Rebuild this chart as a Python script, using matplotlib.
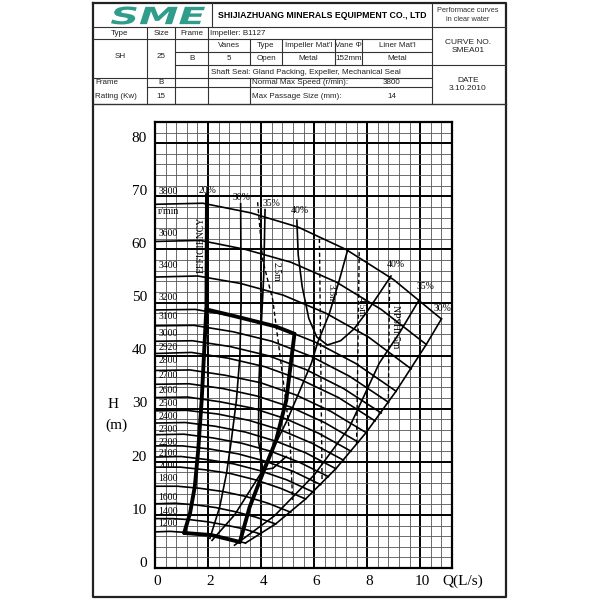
import matplotlib.pyplot as plt
from matplotlib.textpath import TextPath
from matplotlib.font_manager import FontProperties
from matplotlib.patches import PathPatch
from matplotlib.transforms import Affine2D

# ---------------------------------------------------------------
# Curvas H-Q por velocidad (r/min)
# ---------------------------------------------------------------
Q_3800 = [0, 1.80, 3.60, 5.40, 7.20, 9.00, 10.80]
H_3800 = [68.5, 68.7, 66.9, 64.2, 60.0, 54.3, 46.9]
Q_3600 = [0, 1.71, 3.41, 5.12, 6.82, 8.53, 10.23]
H_3600 = [61.5, 61.7, 60.0, 57.6, 53.9, 48.7, 42.1]
Q_3400 = [0, 1.61, 3.22, 4.83, 6.44, 8.05, 9.66]
H_3400 = [54.8, 55.0, 53.6, 51.4, 48.0, 43.5, 37.5]
Q_3200 = [0, 1.52, 3.03, 4.55, 6.06, 7.58, 9.09]
H_3200 = [48.6, 48.7, 47.4, 45.5, 42.5, 38.5, 33.3]
Q_3100 = [0, 1.47, 2.94, 4.41, 5.87, 7.34, 8.81]
H_3100 = [45.6, 45.7, 44.5, 42.7, 39.9, 36.1, 31.2]
Q_3000 = [0, 1.42, 2.84, 4.26, 5.68, 7.11, 8.53]
H_3000 = [42.7, 42.8, 41.7, 40.0, 37.4, 33.8, 29.2]
Q_2920 = [0, 1.38, 2.77, 4.15, 5.53, 6.92, 8.30]
H_2920 = [40.4, 40.6, 39.5, 37.9, 35.4, 32.1, 27.7]
Q_2800 = [0, 1.33, 2.65, 3.98, 5.31, 6.63, 7.96]
H_2800 = [37.2, 37.3, 36.3, 34.9, 32.6, 29.5, 25.5]
Q_2700 = [0, 1.28, 2.56, 3.84, 5.12, 6.39, 7.67]
H_2700 = [34.6, 34.7, 33.8, 32.4, 30.3, 27.4, 23.7]
Q_2600 = [0, 1.23, 2.46, 3.69, 4.93, 6.16, 7.39]
H_2600 = [32.1, 32.2, 31.3, 30.1, 28.1, 25.4, 22.0]
Q_2500 = [0, 1.18, 2.37, 3.55, 4.74, 5.92, 7.11]
H_2500 = [29.6, 29.7, 29.0, 27.8, 26.0, 23.5, 20.3]
Q_2400 = [0, 1.14, 2.27, 3.41, 4.55, 5.68, 6.82]
H_2400 = [27.3, 27.4, 26.7, 25.6, 23.9, 21.7, 18.7]
Q_2300 = [0, 1.09, 2.18, 3.27, 4.36, 5.45, 6.54]
H_2300 = [25.1, 25.2, 24.5, 23.5, 22.0, 19.9, 17.2]
Q_2200 = [0, 1.04, 2.08, 3.13, 4.17, 5.21, 6.25]
H_2200 = [23.0, 23.0, 22.4, 21.5, 20.1, 18.2, 15.7]
Q_2100 = [0, 0.99, 1.99, 2.98, 3.98, 4.97, 5.97]
H_2100 = [20.9, 21.0, 20.4, 19.6, 18.3, 16.6, 14.3]
Q_2000 = [0, 0.95, 1.89, 2.84, 3.79, 4.74, 5.68]
H_2000 = [19.0, 19.0, 18.5, 17.8, 16.6, 15.0, 13.0]
Q_1800 = [0, 0.85, 1.71, 2.56, 3.41, 4.26, 5.12]
H_1800 = [15.4, 15.4, 15.0, 14.4, 13.5, 12.2, 10.5]
Q_1600 = [0, 0.76, 1.52, 2.27, 3.03, 3.79, 4.55]
H_1600 = [12.1, 12.2, 11.9, 11.4, 10.6, 9.6, 8.3]
Q_1400 = [0, 0.66, 1.33, 1.99, 2.65, 3.32, 3.98]
H_1400 = [9.3, 9.3, 9.1, 8.7, 8.1, 7.4, 6.4]
Q_1200 = [0, 0.57, 1.14, 1.71, 2.27, 2.84, 3.41]
H_1200 = [6.8, 6.9, 6.7, 6.4, 6.0, 5.4, 4.7]

SPEED_LABELS = ["3800", "r/min", "3600", "3400", "3200", "3100", "3000",
                "2920", "2800", "2700", "2600", "2500", "2400", "2300",
                "2200", "2100", "2000", "1800", "1600", "1400", "1200"]
SPEED_LABEL_H = [70.9, 67.1, 63.0, 56.9, 50.9, 47.3, 44.2, 41.5, 39.0,
                 36.2, 33.5, 31.0, 28.5, 26.1, 23.6, 21.5, 19.3, 16.9,
                 13.3, 10.7, 8.3]

# ---------------------------------------------------------------
# Rendimientos, zona de operacion y NPSH
# ---------------------------------------------------------------
EFF20_Q = [1.96, 1.95, 1.94, 1.76, 1.63, 1.50, 1.32, 1.10]
EFF20_H = [70.4, 60.0, 49.2, 31.6, 22.2, 15.3, 10.3, 6.6]

ZONE_TOP_Q = [1.94, 3.03, 4.55, 5.26]
ZONE_TOP_H = [48.7, 47.4, 45.5, 44.1]
ZONE_RIGHT_Q = [5.26, 4.95, 4.57, 4.07, 3.57, 3.20]
ZONE_RIGHT_H = [44.1, 31.6, 24.1, 17.9, 11.5, 4.9]
ZONE_BOT_Q = [1.10, 2.13, 3.20]
ZONE_BOT_H = [6.6, 6.2, 4.9]

EFF30_Q = [3.23, 3.25, 3.20, 3.07, 2.88, 2.70, 2.44, 2.07]
EFF30_H = [68.6, 50.5, 39.8, 31.6, 24.1, 17.9, 11.5, 5.6]

EFF35_Q = [4.15, 4.10, 4.00, 3.92, 3.90, 4.07, 4.45, 4.95]
EFF35_H = [67.5, 55.0, 45.0, 35.0, 24.0, 18.5, 18.8, 21.0]

EFF40_Q = [5.35, 5.40, 5.55, 5.80, 6.10, 6.50, 7.00, 7.50, 8.00, 8.50, 8.90]
EFF40_H = [65.5, 59.0, 53.0, 47.0, 43.5, 42.0, 42.8, 45.0, 48.3, 52.0, 55.0]

BEP_Q = [7.26, 6.95, 6.58, 6.13, 5.90, 5.00, 4.00, 3.00, 2.15]
BEP_H = [59.8, 54.2, 48.0, 42.4, 38.6, 28.0, 17.9, 10.0, 5.2]

EFF35R_Q = [3.00, 4.50, 6.00, 7.33, 8.46, 9.21, 9.96]
EFF35R_H = [4.3, 9.8, 17.5, 26.5, 38.6, 44.2, 50.5]

EFF30R_Q = [3.41, 4.55, 5.68, 6.82, 7.96, 9.09, 10.23, 10.80]
EFF30R_H = [4.7, 8.3, 13.0, 18.7, 25.5, 33.3, 42.1, 46.9]

NPSH25_Q = [3.87, 4.06, 4.44, 4.77, 5.08, 5.19]
NPSH25_H = [68.9, 58.0, 50.5, 37.9, 25.4, 12.8]
NPSH35_Q = [6.20, 6.25, 6.30]
NPSH35_H = [62.0, 40.0, 16.3]
NPSH45_Q = [7.70, 7.65, 7.60]
NPSH45_H = [59.5, 40.0, 23.3]
NPSH5_Q = [8.85, 8.82, 8.80]
NPSH5_H = [55.0, 42.0, 31.0]

X_TICKS = [0, 2, 4, 6, 8, 10]
Y_TICKS = [0, 10, 20, 30, 40, 50, 60, 70, 80]

SERIF = "Liberation Serif"
SANS = "Liberation Sans"
TEAL = "#2f9c8c"


def logo(ax, x0, x1, y0, y1):
    """Texto SME estirado para llenar la caja (en pixeles)."""
    fp = FontProperties(family="DejaVu Sans", weight="bold", style="italic")
    tp = TextPath((0, 0), "SME", size=10, prop=fp)
    ext = tp.get_extents()
    sx = (x1 - x0) / ext.width
    sy = (y1 - y0) / ext.height
    tr = (Affine2D().translate(-ext.x0, -ext.y0).scale(sx, -sy)
          .translate(x0, y1))
    ax.add_patch(PathPatch(tr.transform_path(tp), fc=TEAL, ec="none"))


def main():
    fig = plt.figure(figsize=(6, 6), dpi=100)

    # ---------------- cabecera (coordenadas en pixeles) ----------------
    tb = fig.add_axes([0, 0, 1, 1])
    tb.set_xlim(0, 600)
    tb.set_ylim(600, 0)
    tb.axis("off")

    lc = "#333333"
    def hl(y, x0, x1, lw=0.8):
        tb.plot([x0, x1], [y, y], color=lc, lw=lw)
    def vl(x, y0, y1, lw=0.8):
        tb.plot([x, x], [y0, y1], color=lc, lw=lw)

    L, R, T, B = 93, 506, 3, 597
    tb.plot([L, R, R, L, L], [T, T, B, B, T], color="#222222", lw=1.6)
    hl(27, L, R)
    hl(39.3, L, 432)
    hl(51.7, 175, 432)
    hl(65, 175, R)
    hl(78.3, L, 432)
    hl(87.3, 147, 432)
    hl(104, L, R, lw=1.0)
    vl(212, T, 27)
    vl(432, T, 104)
    vl(147, 27, 104)
    vl(175, 27, 104)
    vl(208, 27, 104)
    vl(250, 39.3, 65)
    vl(250, 78.3, 104)
    for x in [282, 335, 362]:
        vl(x, 39.3, 65)

    logo(tb, 111, 205, 6.5, 24.5)
    tb.text(322, 15, "SHIJIAZHUANG MINERALS EQUIPMENT CO., LTD",
            fontsize=6.3, fontweight="bold", family=SANS, ha="center", va="center")
    tb.text(468, 15, "Performace curves\nin clear water", fontsize=5.3,
            family=SANS, ha="center", va="center", color="#333333", linespacing=1.3)

    fs = 5.8
    def t(x, y, s, ha="center"):
        tb.text(x, y, s, fontsize=fs, family=SANS, ha=ha, va="center", color="#222222")
    t(120, 33.5, "Type"); t(161, 33.5, "Size"); t(191.5, 33.5, "Frame")
    t(210, 33.5, "Impeller: B1127", ha="left")
    t(229, 45.5, "Vanes"); t(266, 45.5, "Type"); t(308.5, 45.5, "Impeller Mat'l")
    t(348.5, 45.5, "Vane \u03a6"); t(397, 45.5, "Liner Mat'l")
    t(229, 58.5, "5"); t(266, 58.5, "Open"); t(308.5, 58.5, "Metal")
    t(348.5, 58.5, "152mm"); t(397, 58.5, "Metal")
    t(120, 57, "SH"); t(161, 57, "25"); t(191.5, 58.5, "B")
    t(211, 72, "Shaft Seal: Gland Packing, Expeller, Mechanical Seal", ha="left")
    t(95, 83, "Frame", ha="left"); t(161, 83, "B")
    t(95, 96, "Rating (Kw)", ha="left"); t(161, 96, "15")
    t(252, 83, "Normal Max Speed (r/min):", ha="left"); t(392, 83, "3800")
    t(252, 96, "Max Passage Size (mm):", ha="left"); t(392, 96, "14")
    tb.text(468, 46, "CURVE NO.\nSMEA01", fontsize=6, family=SANS,
            ha="center", va="center", color="#222222", linespacing=1.2)
    tb.text(468, 84, "DATE\n3.10.2010", fontsize=6, family=SANS,
            ha="center", va="center", color="#222222", linespacing=1.2)

    # ---------------- grafico ----------------
    ax = fig.add_axes([155 / 600, 32 / 600, 297 / 600, 446 / 600])
    ax.set_xlim(0, 11.2)
    ax.set_ylim(0, 84)
    ax.set_xticks([])
    ax.set_yticks([])
    for s in ax.spines.values():
        s.set_linewidth(1.6)

    # cuadricula: menor cada 0.4 L/s y 2 m, mayor cada 2 L/s y 10 m
    for i in range(1, 28):
        q = i * 0.4
        major = i % 5 == 0
        ax.axvline(q, color="black" if major else "#555555",
                   lw=1.4 if major else 0.6, zorder=1)
    for j in range(1, 42):
        h = j * 2
        major = j % 5 == 0
        ax.axhline(h, color="black" if major else "#555555",
                   lw=1.4 if major else 0.6, zorder=1)

    curves = [(Q_3800, H_3800), (Q_3600, H_3600), (Q_3400, H_3400),
              (Q_3200, H_3200), (Q_3100, H_3100), (Q_3000, H_3000),
              (Q_2920, H_2920), (Q_2800, H_2800), (Q_2700, H_2700),
              (Q_2600, H_2600), (Q_2500, H_2500), (Q_2400, H_2400),
              (Q_2300, H_2300), (Q_2200, H_2200), (Q_2100, H_2100),
              (Q_2000, H_2000), (Q_1800, H_1800), (Q_1600, H_1600),
              (Q_1400, H_1400), (Q_1200, H_1200)]
    for q, h in curves:
        ax.plot(q, h, color="black", lw=1.2, zorder=3)

    for lab, h in zip(SPEED_LABELS, SPEED_LABEL_H):
        ax.text(0.12, h, lab, fontsize=7, family=SERIF, ha="left",
                va="center", zorder=4)

    bold = dict(color="black", lw=2.8, zorder=5, solid_capstyle="round")
    ax.plot(EFF20_Q, EFF20_H, **bold)
    ax.plot(ZONE_TOP_Q, ZONE_TOP_H, **bold)
    ax.plot(ZONE_RIGHT_Q, ZONE_RIGHT_H, **bold)
    ax.plot(ZONE_BOT_Q, ZONE_BOT_H, **bold)

    thin = dict(color="black", lw=1.2, zorder=4)
    for q, h in [(EFF30_Q, EFF30_H), (EFF35_Q, EFF35_H), (EFF40_Q, EFF40_H),
                 (BEP_Q, BEP_H), (EFF35R_Q, EFF35R_H), (EFF30R_Q, EFF30R_H)]:
        ax.plot(q, h, **thin)

    dash = dict(color="black", lw=1.0, ls=(0, (3, 2)), zorder=4)
    for q, h in [(NPSH25_Q, NPSH25_H), (NPSH35_Q, NPSH35_H),
                 (NPSH45_Q, NPSH45_H), (NPSH5_Q, NPSH5_H)]:
        ax.plot(q, h, **dash)

    lab = dict(fontsize=7, family=SERIF, zorder=6, ha="center", va="center")
    ax.text(1.98, 71.1, "20%", **lab)
    ax.text(3.26, 69.8, "30%", **lab)
    ax.text(4.39, 68.7, "35%", **lab)
    ax.text(5.45, 67.3, "40%", **lab)
    ax.text(9.09, 57.2, "40%", **lab)
    ax.text(10.19, 53.0, "35%", **lab)
    ax.text(10.86, 48.9, "30%", **lab)
    ax.text(1.75, 60.8, "EFFICIENCY", rotation=90, **lab)
    ax.text(4.57, 55.8, "2.5m", rotation=-90, **lab)
    ax.text(6.64, 51.7, "3.5m", rotation=-90, **lab)
    ax.text(7.77, 49.2, "4.5m", rotation=-90, **lab)
    ax.text(9.06, 45.4, "NPSHr 5m", rotation=-90, **lab)

    # etiquetas de ejes
    for v in X_TICKS:
        ax.text(v + 0.08, -1.3, str(v), fontsize=11, family=SERIF,
                ha="center", va="top", clip_on=False)
    for v in Y_TICKS:
        ax.text(-0.3, v + 0.9, str(v), fontsize=11, family=SERIF,
                ha="right", va="center", clip_on=False)
    ax.text(10.83, -1.3, "Q(L/s)", fontsize=11, family=SERIF,
            ha="left", va="top", clip_on=False)
    fig.text(113 / 600, 1 - 405 / 600, "H", fontsize=11, family=SERIF,
             ha="center", va="center")
    fig.text(116 / 600, 1 - 425 / 600, "(m)", fontsize=11, family=SERIF,
             ha="center", va="center")

    fig.savefig("out.png", dpi=100)


if __name__ == "__main__":
    main()
